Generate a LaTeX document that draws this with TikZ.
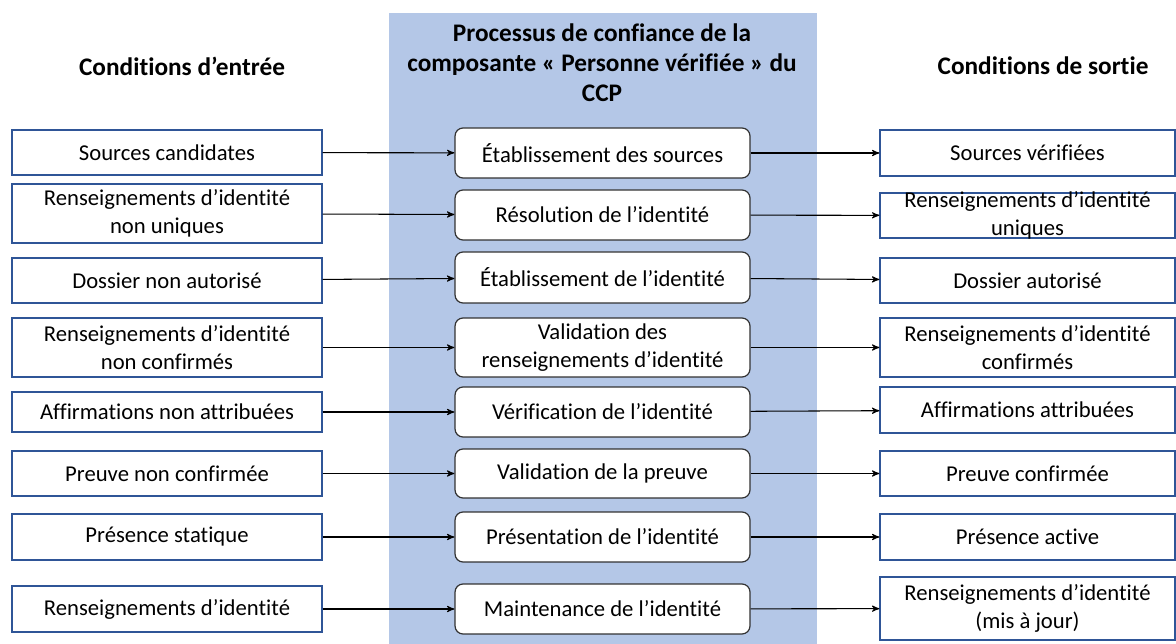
\documentclass[tikz,border=0pt]{standalone}
\usepackage{fontspec}
\setmainfont{Carlito}[Ligatures={NoCommon,NoRare}]
\usepackage{xcolor}
\usepackage{tikz}
\usetikzlibrary{arrows}
\definecolor{bandblue}{HTML}{B4C7E7}
\definecolor{boxblue}{HTML}{2F5597}
\tikzset{
	cond node/.style={rectangle,draw=boxblue,fill=white,line width=0.7pt,inner sep=0pt,
		align=center,font=\fontsize{12.9}{15.9}\selectfont,minimum width=6.2cm},
	proc node/.style={rectangle,rounded corners=0.16cm,draw=black!80,fill=white,line width=0.7pt,
		inner sep=0pt,align=center,font=\fontsize{12.9}{15.9}\selectfont,minimum width=5.9cm},
	head node/.style={align=center,font=\fontsize{14.4}{17}\selectfont\bfseries}
}

\begin{document}
\begin{tikzpicture}[x=0.02cm,y=-0.02cm,->,>=stealth',line width=0.6pt]
      \useasboundingbox (0,0) rectangle (1176,644);
      \fill[bandblue] (389,13) rectangle (817,644);

      \node[head node] (h1) at (182,66) {Conditions d’entrée};
      \node[head node] (h2) at (602,63) {Processus de confiance de la\\composante « Personne vérifiée » du\\CCP};
      \node[head node] (h3) at (1043,66) {Conditions de sortie};

      % entrees
      \node[cond node,minimum height=0.9cm] (in1) at (167,152.5) {Sources candidates};
      \node[cond node,minimum height=1.18cm] (in2) at (167,213.5) {Renseignements d’identité\\non uniques};
      \node[cond node,minimum height=0.9cm] (in3) at (167,280.5) {Dossier non autorisé};
      \node[cond node,minimum height=1.18cm] (in4) at (167,347.5) {Renseignements d’identité\\non confirmés};
      \node[cond node,minimum height=0.8cm] (in5) at (167,412) {Affirmations non attribuées};
      \node[cond node,minimum height=0.9cm] (in6) at (167,473.5) {Preuve non confirmée};
      \node[cond node,minimum height=0.92cm] (in7) at (167,537) {Présence statique};
      \node[cond node,minimum height=0.92cm] (in8) at (167,609) {Renseignements d’identité};

      % processus
      \node[proc node,minimum height=1cm] (p1) at (602.5,153) {Établissement des sources};
      \node[proc node,minimum height=1cm] (p2) at (602.5,215) {Résolution de l’identité};
      \node[proc node,minimum height=1.02cm] (p3) at (602.5,277.5) {Établissement de l’identité};
      \node[proc node,minimum height=1.18cm] (p4) at (602.5,347.5) {Validation des\\renseignements d’identité};
      \node[proc node,minimum height=1cm] (p5) at (602.5,412) {Vérification de l’identité};
      \node[proc node,minimum height=0.98cm] (p6) at (602.5,473.5) {Validation de la preuve};
      \node[proc node,minimum height=1cm] (p7) at (602.5,537) {Présentation de l’identité};
      \node[proc node,minimum height=1cm] (p8) at (602.5,609) {Maintenance de l’identité};

      % sorties
      \node[cond node,minimum width=5.9cm,minimum height=0.92cm] (out1) at (1027.5,153) {Sources vérifiées};
      \node[cond node,minimum width=5.9cm,minimum height=0.9cm] (out2) at (1027.5,215.5) {};
      \node[font=\fontsize{12.9}{15.9}\selectfont,align=center] (out2t) at (out2) {Renseignements d’identité\\uniques};
      \node[cond node,minimum width=5.9cm,minimum height=0.9cm] (out3) at (1027.5,280.5) {Dossier autorisé};
      \node[cond node,minimum width=5.9cm,minimum height=1.18cm] (out4) at (1027.5,347.5) {Renseignements d’identité\\confirmés};
      \node[cond node,minimum width=5.9cm,minimum height=0.92cm] (out5) at (1027.5,410) {Affirmations attribuées};
      \node[cond node,minimum width=5.9cm,minimum height=0.9cm] (out6) at (1027.5,473.5) {Preuve confirmée};
      \node[cond node,minimum width=5.9cm,minimum height=0.92cm] (out7) at (1027.5,537) {Présence active};
      \node[cond node,minimum width=5.9cm,minimum height=1.26cm] (out8) at (1027.5,608.5) {Renseignements d’identité\\(mis à jour)};

      \path[]
        (in1) edge (p1)
        (in2) edge (p2)
        (in3) edge (p3)
        (in4) edge (p4)
        (in5) edge (p5)
        (in6) edge (p6)
        (in7) edge (p7)
        (in8) edge (p8)
        (p1) edge (out1)
        (p2) edge (out2)
        (p3) edge (out3)
        (p4) edge (out4)
        (p5) edge (out5)
        (p6) edge (out6)
        (p7) edge (out7)
        (p8) edge (out8);
\end{tikzpicture}
\end{document}
